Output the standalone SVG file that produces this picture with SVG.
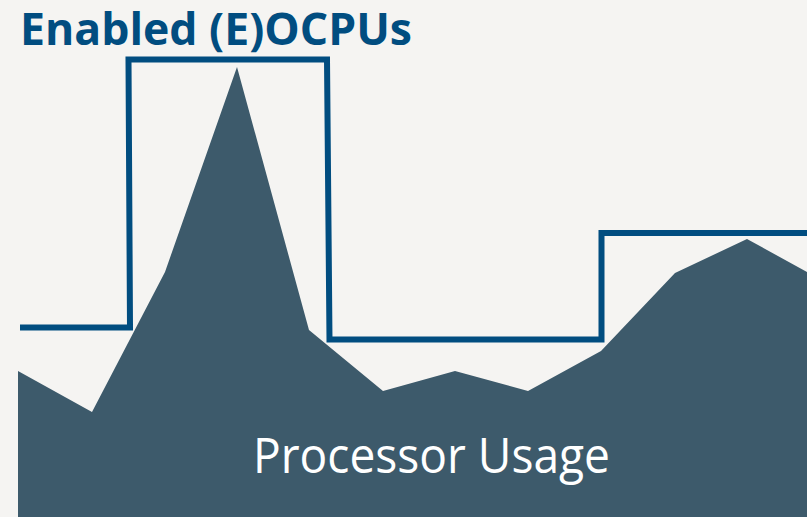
<svg xmlns="http://www.w3.org/2000/svg" width="807" height="517" viewBox="0 0 807 517">
  <style>
    .title { font-family: "Open Sans", "Liberation Sans", sans-serif; font-weight: 700; font-size: 45px; fill: #014d80; }
    .label { font-family: "Open Sans", "Liberation Sans", sans-serif; font-weight: 400; font-size: 49px; fill: #ffffff; }
    .usage { fill: #3d5a6b; }
    .enabled { fill: none; stroke: #014d80; stroke-width: 6; stroke-linejoin: miter; }
  </style>
  <rect id="background" x="0" y="0" width="807" height="517" fill="#f5f4f2"/>
  <g id="processor-usage">
    <polygon class="usage" points="18,371 92,412 165,272 237,67 309,330 383,391 455,371 528,391 601,351 675,273 747,239 807,272 807,517 18,517"/>
    <text class="label" x="253" y="473" textLength="357" lengthAdjust="spacingAndGlyphs">Processor Usage</text>
  </g>
  <g id="enabled-ocpus">
    <polyline class="enabled" points="20,327.5 130,327.5 128.5,59.5 327,59.5 329.5,339.5 601.5,339.5 601.5,233 807,233"/>
    <text class="title" x="20" y="45" textLength="392" lengthAdjust="spacingAndGlyphs">Enabled (E)OCPUs</text>
  </g>
</svg>
